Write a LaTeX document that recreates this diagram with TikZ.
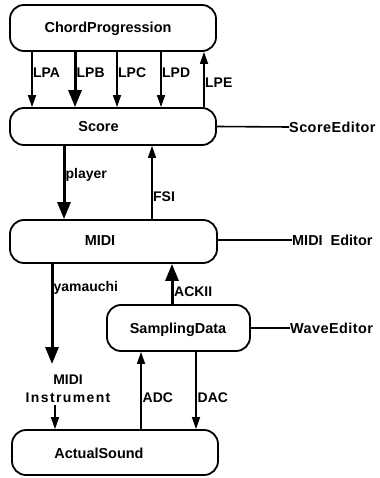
\documentclass[tikz,border=0pt]{standalone}
\usepackage{fontspec}
\setmainfont{Liberation Sans}[BoldFont={Liberation Sans Bold}]
\usetikzlibrary{arrows.meta}
\begin{document}
\begin{tikzpicture}[x=1bp,y=-1bp,
  box/.style={draw,line width=1.8bp,rounded corners=14bp,inner sep=0pt},
  txt/.style={inner sep=0pt,font=\fontsize{14.5}{16}\selectfont\bfseries},
  lbl/.style={inner sep=0pt,anchor=west,font=\fontsize{14}{16}\selectfont\bfseries},
  arr/.style={line width=1.6bp,-{Triangle[length=12bp,width=8bp]}},
  barr/.style={line width=3bp,-{Triangle[length=17bp,width=13bp]}},
  link/.style={line width=1.6bp}]
\useasboundingbox (0,0) rectangle (379,478);
% boxes
\node[box,minimum width=206bp,minimum height=46bp] (cp) at (113,28) {};
\node[box,minimum width=206bp,minimum height=37bp] (sc) at (113,126.5) {};
\node[box,minimum width=207bp,minimum height=43bp] (mi) at (113.5,241.5) {};
\node[box,minimum width=143bp,minimum height=46bp] (sd) at (178.5,328) {};
\node[box,minimum width=206bp,minimum height=45bp] (as) at (115,452.5) {};
% box texts
\node[txt] (tcp) at (108,29) {ChordProgression};
\node[txt] (tsc) at (98.5,127) {Score};
\node[txt] (tmi) at (100,241) {MIDI};
\node[txt] (tsd) at (178,330) {SamplingData};
\node[txt] (tas) at (99,453) {ActualSound};
% editors
\node[txt,anchor=west] (se) at (289,127) {\addfontfeature{LetterSpace=3}ScoreEditor};
\node[txt,anchor=west] (me) at (292,240) {MIDI\ \ Editor};
\node[txt,anchor=west] (we) at (290,328) {\addfontfeature{LetterSpace=3}WaveEditor};
\draw[link] (sc.east) -- (se.west);
\draw[link] (mi.east |- me.west) -- (me.west);
\draw[link] (sd.east |- we.west) -- (we.west);
% ChordProgression -> Score
\draw[arr]  (cp.south -| 32,0)  -- (sc.north -| 32,0);
\draw[barr] (cp.south -| 75,0)  -- (sc.north -| 75,0);
\draw[arr]  (cp.south -| 117,0) -- (sc.north -| 117,0);
\draw[arr]  (cp.south -| 161,0) -- (sc.north -| 161,0);
\draw[arr]  (sc.north -| 204,0) -- (cp.south -| 204,0);
\node[lbl] (lpa) at (33,73) {LPA};
\node[lbl] (lpb) at (76.5,73) {LPB};
\node[lbl] (lpc) at (118,73) {LPC};
\node[lbl] (lpd) at (162,73) {LPD};
\node[lbl] (lpe) at (205,83) {LPE};
% Score <-> MIDI
\draw[barr] (sc.south -| 64,0) -- (mi.north -| 64,0);
\draw[arr]  (mi.north -| 152,0) -- (sc.south -| 152,0);
\node[lbl] (pl) at (65.5,175) {player};
\node[lbl] (fsi) at (153,197) {FSI};
% MIDI -> instrument
\node[txt,align=center,font=\fontsize{14}{18}\selectfont\bfseries] (ins) at (68,389) {MIDI\\\addfontfeature{LetterSpace=10}Instrument};
\coordinate (yend) at (52,364);
\draw[barr] (mi.south -| yend) -- (yend);
\node[lbl] (ya) at (53.5,288) {yamauchi};
\coordinate (istart) at (55,405);
\draw[arr] (istart) -- (as.north -| istart);
% SamplingData <-> MIDI
\draw[barr] (sd.north -| 172,0) -- (mi.south -| 172,0);
\node[lbl] (ack) at (174,292) {ACKII};
% SamplingData <-> ActualSound
\draw[arr] (as.north -| 141,0) -- (sd.south -| 141,0);
\draw[arr] (sd.south -| 196,0) -- (as.north -| 196,0);
\node[lbl] (adc) at (142.5,398) {ADC};
\node[lbl] (dac) at (197.5,398) {DAC};
\end{tikzpicture}
\end{document}
